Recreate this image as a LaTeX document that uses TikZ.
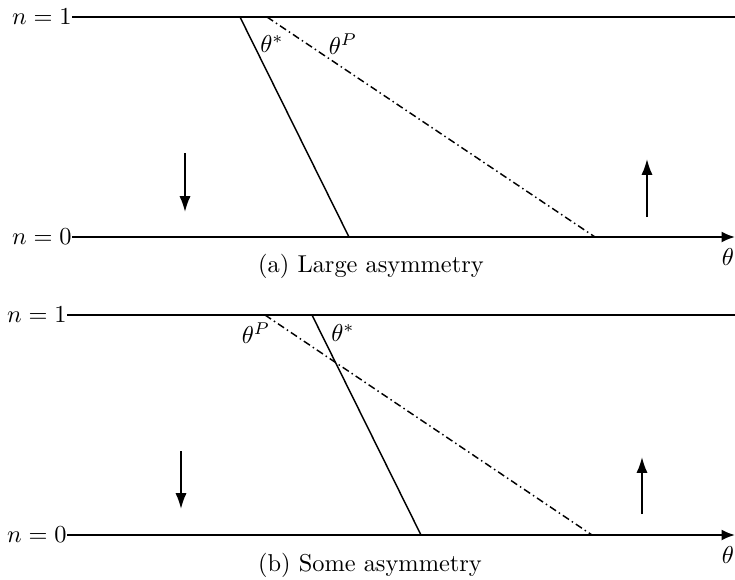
\documentclass[tikz,border=0pt]{standalone}
\usetikzlibrary{arrows.meta}
\begin{document}
\begin{tikzpicture}[x=0.41pt,y=-0.41pt,
  hline/.style={line width=0.8pt},
  axisline/.style={line width=0.8pt,-{Latex[length=5.5pt,width=4.5pt]}},
  solidline/.style={line width=0.6pt},
  dashline/.style={line width=0.6pt,dash pattern=on 3pt off 1.4pt on 0.6pt off 1.4pt},
  flow/.style={line width=0.8pt,-{Latex[length=6.5pt,width=4.6pt]}},
  lbl/.style={inner sep=0pt}]
\useasboundingbox (0,0) rectangle (735,579);
% panel (a)
\node[lbl,anchor=east] (an1) at (72,17) {$n=1$};
\node[lbl,anchor=east] (an0) at (72,237) {$n=0$};
\coordinate (a1r) at (735,17);
\coordinate (a0r) at (735,237);
\coordinate (asT) at (240,17);
\coordinate (asB) at (349,237);
\coordinate (adT) at (267,17);
\coordinate (adB) at (595,237);
\draw[hline] (an1.east) -- (a1r);
\draw[axisline] (an0.east) -- (a0r);
\draw[solidline] (asT) -- (asB);
\draw[dashline] (adT) -- (adB);
\node[lbl] (ats) at (272,44) {$\theta^{*}$};
\node[lbl] (atp) at (343,44) {$\theta^{P}$};
\coordinate (adn1) at (185,153);
\coordinate (adn2) at (185,212);
\coordinate (aup1) at (647,217);
\coordinate (aup2) at (647,159);
\draw[flow] (adn1) -- (adn2);
\draw[flow] (aup1) -- (aup2);
\node[lbl] (ath) at (728,257) {$\theta$};
\node[lbl] (acap) at (371,266) {(a) Large asymmetry};
% panel (b)
\node[lbl,anchor=east] (bn1) at (67,315) {$n=1$};
\node[lbl,anchor=east] (bn0) at (67,535) {$n=0$};
\coordinate (b1r) at (735,315);
\coordinate (b0r) at (735,535);
\coordinate (bsT) at (312,315);
\coordinate (bsB) at (421,535);
\coordinate (bdT) at (265,315);
\coordinate (bdB) at (592,535);
\draw[hline] (bn1.east) -- (b1r);
\draw[axisline] (bn0.east) -- (b0r);
\draw[solidline] (bsT) -- (bsB);
\draw[dashline] (bdT) -- (bdB);
\node[lbl] (btp) at (256,333) {$\theta^{P}$};
\node[lbl] (bts) at (343,333) {$\theta^{*}$};
\coordinate (bdn1) at (181,451);
\coordinate (bdn2) at (181,509);
\coordinate (bup1) at (642,514);
\coordinate (bup2) at (642,457);
\draw[flow] (bdn1) -- (bdn2);
\draw[flow] (bup1) -- (bup2);
\node[lbl] (bth) at (728,555) {$\theta$};
\node[lbl] (bcap) at (370,565) {(b) Some asymmetry};
\end{tikzpicture}
\end{document}
